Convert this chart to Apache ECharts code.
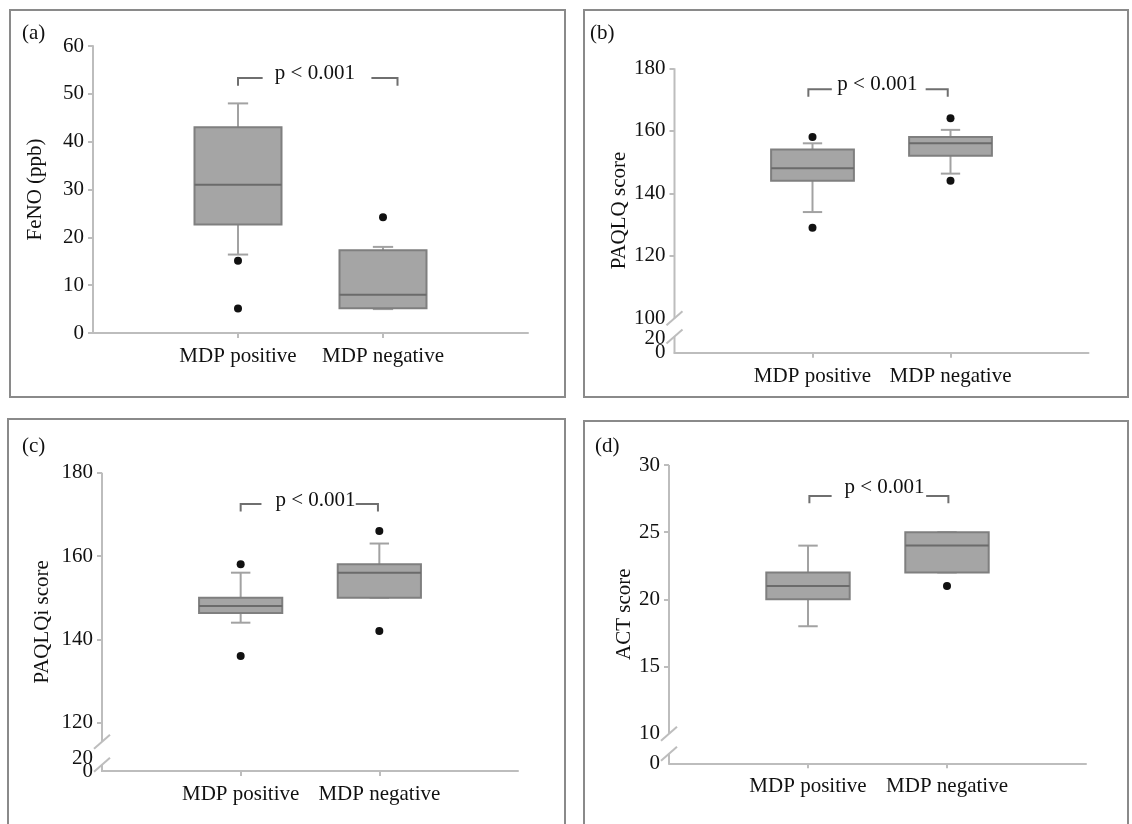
<!DOCTYPE html>
<html><head><meta charset="utf-8">
<script src="https://cdn.jsdelivr.net/npm/echarts@6/dist/echarts.min.js"></script>
<style>html,body{margin:0;padding:0;background:#fff}#c{width:1132px;height:824px}</style>
</head><body><div id="c"></div><script>
// ---------------- data ----------------
const categories = ['MDP positive', 'MDP negative'];
const pLabel = 'p < 0.001';
const panelLetters = ['(a)', '(b)', '(c)', '(d)'];
const yNames = ['FeNO (ppb)', 'PAQLQ score', 'PAQLQi score', 'ACT score'];

// box stats per group: [min, Q1, median, Q3, max]
const fenoBoxes   = [[16.4, 22.7, 31, 43, 48], [5, 5.2, 8, 17.3, 18]];
const paqlqBoxes  = [[134, 144, 148, 154, 156], [146.3, 152, 156, 158, 160.3]];
const paqlqiBoxes = [[144, 146.3, 148, 150, 156], [150, 150, 156, 158, 163]];
const actBoxes    = [[18, 20, 21, 22, 24], [22, 22, 24, 25, 25]];

// outliers: [group index, value]
const fenoOutliers   = [[0, 15.1], [0, 5.1], [1, 24.2]];
const paqlqOutliers  = [[0, 158], [0, 129], [1, 164], [1, 144]];
const paqlqiOutliers = [[0, 158], [0, 136], [1, 166], [1, 142]];
const actOutliers    = [[1, 21]];

// y tick labels
const fenoTicks   = [0, 10, 20, 30, 40, 50, 60];
const paqlqTicks  = [0, 20, 100, 120, 140, 160, 180];
const paqlqiTicks = [0, 20, 120, 140, 160, 180];
const actTicks    = [0, 10, 15, 20, 25, 30];

// significance bracket: [leftStart, leftEnd, rightStart, rightEnd, top, bottom, textX, textY]
const fenoBracket   = [1.0, 1.17, 1.92, 2.10, 53.3, 51.7, 1.53, 54.2];
const paqlqBracket  = [0.97, 1.14, 1.82, 1.98, 173.3, 170.9, 1.47, 174.7];
const paqlqiBracket = [1.0, 1.15, 1.83, 1.99, 172.5, 170.7, 1.54, 173.4];
const actBracket    = [1.01, 1.17, 1.85, 2.01, 27.7, 27.15, 1.55, 28.3];

// ---------------- layout ----------------
const FONT = 'Liberation Serif';
const panels = [
  { boxes: fenoBoxes, outliers: fenoOutliers, ticks: fenoTicks, bracket: fenoBracket,
    grid: { left: 93, top: 46, width: 435, height: 287 }, yMax: 60,
    low: null, slashes: null, frame: [10, 10, 555, 387], title: [22, 23], nameGap: 47 },
  { boxes: paqlqBoxes, outliers: paqlqOutliers, ticks: paqlqTicks, bracket: paqlqBracket,
    grid: { left: 674.5, top: 68.3, width: 414, height: 284.4 }, yMax: 180,
    low: { 0: 89, 20: 93.7 }, slashes: [100, 94.2], frame: [584, 10, 544, 387], title: [590, 23], nameGap: 45 },
  { boxes: paqlqiBoxes, outliers: paqlqiOutliers, ticks: paqlqiTicks, bracket: paqlqiBracket,
    grid: { left: 102, top: 472.7, width: 416, height: 298.3 }, yMax: 180,
    low: { 0: 108.4, 20: 111.3 }, slashes: [115.4, 109.9], frame: [8, 419, 557, 430], title: [22, 436], nameGap: 49 },
  { boxes: actBoxes, outliers: actOutliers, ticks: actTicks, bracket: actBracket,
    grid: { left: 669, top: 465, width: 417, height: 298.3 }, yMax: 30,
    low: { 0: 7.8 }, slashes: [10, 8.51], frame: [584, 421, 544, 430], title: [595, 436], nameGap: 34 }
];

const AXIS_COLOR = '#bdbdbd';
const TEXT_COLOR = '#111';
const labelStyle = { fontFamily: FONT, fontSize: 21, color: TEXT_COLOR };

function isLow(p, t) { return !!(p.low && p.low[t] !== undefined); }
function tickPos(p, t) { return isLow(p, t) ? p.low[t] : t; }

function renderBox(params, api) {
  const x = api.value(0);
  const band = api.size([1, 0])[0];
  const bw = band * 0.6, cw = band * 0.14;
  const pMin = api.coord([x, api.value(1)]);
  const pQ1 = api.coord([x, api.value(2)]);
  const pMed = api.coord([x, api.value(3)]);
  const pQ3 = api.coord([x, api.value(4)]);
  const pMax = api.coord([x, api.value(5)]);
  const cx = pMed[0];
  const whisk = { stroke: '#a2a2a2', lineWidth: 2 };
  return { type: 'group', children: [
    { type: 'line', shape: { x1: cx, y1: pMax[1], x2: cx, y2: pQ3[1] }, style: whisk },
    { type: 'line', shape: { x1: cx, y1: pQ1[1], x2: cx, y2: pMin[1] }, style: whisk },
    { type: 'line', shape: { x1: cx - cw / 2, y1: pMax[1], x2: cx + cw / 2, y2: pMax[1] }, style: whisk },
    { type: 'line', shape: { x1: cx - cw / 2, y1: pMin[1], x2: cx + cw / 2, y2: pMin[1] }, style: whisk },
    { type: 'rect', shape: { x: cx - bw / 2, y: pQ3[1], width: bw, height: pQ1[1] - pQ3[1] },
      style: { fill: '#a5a5a5', stroke: '#7f7f7f', lineWidth: 2 } },
    { type: 'line', shape: { x1: cx - bw / 2, y1: pMed[1], x2: cx + bw / 2, y2: pMed[1] },
      style: { stroke: '#6b6b6b', lineWidth: 2 } }
  ] };
}

function renderBracket(params, api) {
  const v = i => api.value(i);
  const c = (x, y) => api.coord([x, y]);
  const st = { stroke: '#6f6f6f', lineWidth: 2, fill: null };
  const t = c(v(6), v(7));
  return { type: 'group', children: [
    { type: 'polyline', shape: { points: [c(v(0), v(5)), c(v(0), v(4)), c(v(1), v(4))] }, style: st },
    { type: 'polyline', shape: { points: [c(v(2), v(4)), c(v(3), v(4)), c(v(3), v(5))] }, style: st },
    { type: 'text', x: t[0], y: t[1], style: { text: pLabel, fontFamily: FONT, fontSize: 21,
      fill: TEXT_COLOR, align: 'center', verticalAlign: 'middle' } }
  ] };
}

const option = { animation: false, grid: [], xAxis: [], yAxis: [], series: [], title: [] };
const mainY = [];

panels.forEach((p, i) => {
  option.grid.push(Object.assign({ containLabel: false }, p.grid));
  option.title.push({ text: panelLetters[i], left: p.title[0], top: p.title[1], padding: 0,
    textStyle: Object.assign({ fontWeight: 'normal' }, labelStyle) });
  option.xAxis.push({
    type: 'value', gridIndex: i, min: 0, max: 3, splitLine: { show: false },
    axisLine: { lineStyle: { color: AXIS_COLOR, width: 2 } },
    axisTick: { customValues: [1, 2], length: 5, lineStyle: { color: AXIS_COLOR, width: 2 } },
    axisLabel: Object.assign({ customValues: [1, 2], formatter: v => categories[Math.round(v) - 1],
      margin: 13 }, labelStyle)
  });
  const yMin = tickPos(p, p.ticks[0]);
  const mainTicks = p.ticks.filter(t => !isLow(p, t));
  const tickMarks = mainTicks.filter(t => !(p.slashes && p.slashes.includes(t)));
  mainY[i] = option.yAxis.length;
  option.yAxis.push({
    type: 'value', gridIndex: i, position: 'left', min: yMin, max: p.yMax, splitLine: { show: false },
    name: yNames[i], nameLocation: 'middle', nameGap: p.nameGap,
    nameTextStyle: labelStyle,
    axisLine: { show: !p.low, lineStyle: { color: AXIS_COLOR, width: 2 } },
    axisTick: { customValues: tickMarks, length: 5, lineStyle: { color: AXIS_COLOR, width: 2 } },
    axisLabel: Object.assign({ customValues: mainTicks, showMinLabel: true, showMaxLabel: true,
      formatter: v => String(v), margin: 9 }, labelStyle)
  });
  // compressed low ticks (below the axis break), one helper axis each so labels are never culled
  p.ticks.filter(t => isLow(p, t)).forEach(t => {
    option.yAxis.push({
      type: 'value', gridIndex: i, position: 'left', min: yMin, max: p.yMax, splitLine: { show: false },
      axisLine: { show: false }, axisTick: { show: false },
      axisLabel: Object.assign({ customValues: [p.low[t]], showMinLabel: true, showMaxLabel: true,
        formatter: () => String(t), margin: 9 }, labelStyle)
    });
  });
  const yi = mainY[i];
  option.series.push({
    type: 'custom', xAxisIndex: i, yAxisIndex: yi, renderItem: renderBox,
    encode: { x: 0, y: [1, 2, 3, 4, 5] },
    data: p.boxes.map((b, g) => [g + 1].concat(b)), z: 2
  });
  option.series.push({
    type: 'scatter', xAxisIndex: i, yAxisIndex: yi, symbolSize: 8,
    itemStyle: { color: '#111', opacity: 1 },
    data: p.outliers.map(o => [o[0] + 1, o[1]]), z: 3
  });
  option.series.push({
    type: 'custom', xAxisIndex: i, yAxisIndex: yi, renderItem: renderBracket,
    encode: { x: [0, 1, 2, 3, 6], y: [4, 5, 7] }, data: [p.bracket], z: 3
  });
});

const chart = echarts.init(document.getElementById('c'), null, { renderer: 'canvas' });
chart.setOption(option);

// frames, and broken y-axis lines with slash marks
const graphics = [];
panels.forEach((p, i) => {
  const f = p.frame;
  graphics.push({ type: 'rect', shape: { x: f[0], y: f[1], width: f[2], height: f[3] },
    style: { fill: null, stroke: '#8a8a8a', lineWidth: 2 }, z: 0 });
  if (p.low) {
    const px = v => chart.convertToPixel({ xAxisIndex: i, yAxisIndex: mainY[i] }, [0, v]);
    const top = px(p.yMax), s1 = px(p.slashes[0]), s2 = px(p.slashes[1]), bot = px(tickPos(p, p.ticks[0]));
    const ls = { stroke: AXIS_COLOR, lineWidth: 2 };
    graphics.push({ type: 'line', shape: { x1: top[0], y1: top[1], x2: s1[0], y2: s1[1] }, style: ls });
    graphics.push({ type: 'line', shape: { x1: s2[0], y1: s2[1], x2: bot[0], y2: bot[1] + 1 }, style: ls });
    [s1, s2].forEach(s => graphics.push({ type: 'line',
      shape: { x1: s[0] - 8, y1: s[1] + 7, x2: s[0] + 8, y2: s[1] - 7 }, style: ls }));
  }
});
chart.setOption({ graphic: graphics });
</script></body></html>
